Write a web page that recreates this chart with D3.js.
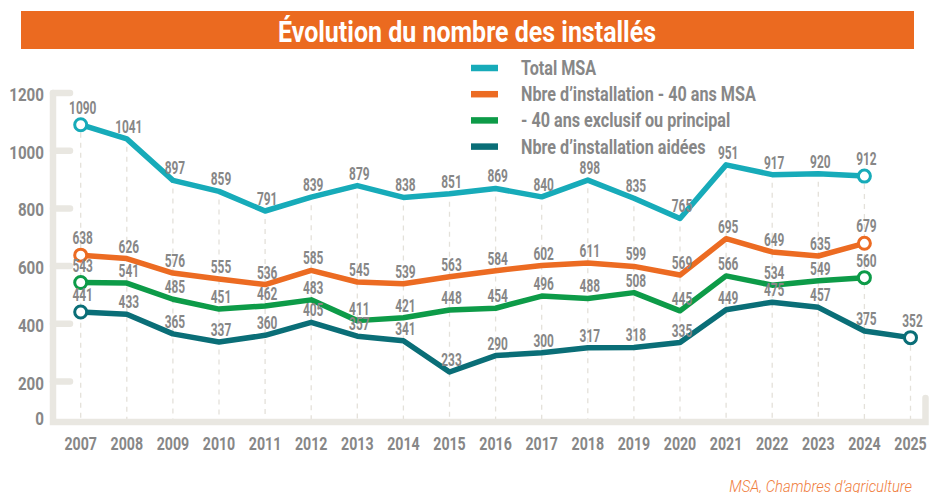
<!DOCTYPE html>
<html>
<head>
  <meta charset="utf-8">
  <title>Évolution du nombre des installés</title>
  <script src="https://cdn.jsdelivr.net/npm/d3@7"></script>
  <style>
    body { margin: 0; background: #fff; }
    text { font-family: Roboto, "DejaVu Sans Condensed", sans-serif; }
  </style>
</head>
<body>
<script>
  // data
  var years = [2007, 2008, 2009, 2010, 2011, 2012, 2013, 2014, 2015, 2016, 2017, 2018, 2019, 2020, 2021, 2022, 2023, 2024, 2025];
  var totalMSA = [1090, 1041, 897, 859, 791, 839, 879, 838, 851, 869, 840, 898, 835, 765, 951, 917, 920, 912];
  var moins40MSA = [638, 626, 576, 555, 536, 585, 545, 539, 563, 584, 602, 611, 599, 569, 695, 649, 635, 679];
  var moins40Excl = [543, 541, 485, 451, 462, 483, 411, 421, 448, 454, 496, 488, 508, 445, 566, 534, 549, 560];
  var aidees = [441, 433, 365, 337, 360, 405, 357, 341, 233, 290, 300, 317, 318, 335, 449, 475, 457, 375, 352];
  var yTicks = [0, 200, 400, 600, 800, 1000, 1200];

  var seriesNames = ["Total MSA", "Nbre d\u2019installation - 40 ans MSA", "- 40 ans exclusif ou principal", "Nbre d\u2019installation aidées"];
  var seriesColors = ["#17abb9", "#ec6b22", "#0d9b48", "#0a6e77"];
  var seriesValues = [totalMSA, moins40MSA, moins40Excl, aidees];

  var W = 930, H = 493;
  var grey = "#878787", axisCol = "#e9e7e1";

  var svg = d3.select("body").append("svg")
      .attr("width", W).attr("height", H);

  // condensed look: squeeze text horizontally
  function squeeze(sel, fx, fy, sx) {
    sel.attr("transform", function (d, i) {
      return "translate(" + fx(d, i) + "," + fy(d, i) + ") scale(" + sx + ",1)";
    });
  }

  // title band
  svg.append("rect")
      .attr("x", 21).attr("y", 11).attr("width", 893).attr("height", 38)
      .attr("fill", "#eb6a20");
  svg.append("text")
      .attr("x", 467).attr("y", 42)
      .attr("text-anchor", "middle")
      .attr("fill", "#fff")
      .attr("font-weight", "bold")
      .attr("font-size", 29)
      .attr("textLength", 378).attr("lengthAdjust", "spacingAndGlyphs")
      .text("Évolution du nombre des installés");

  var x = d3.scaleLinear().domain([2007, 2025]).range([80.7, 910.5]);
  // the axis is squeezed between 0 and 200 on the original
  var y = d3.scaleLinear().domain([0, 200, 1200]).range([420, 381.5, 93]);

  // dashed guides, from the highest point of each year down to the axis
  var tops = years.map(function (yr, i) {
    return d3.max(seriesValues, function (s) { return s[i]; });
  });
  svg.append("g").selectAll("line")
      .data(years)
      .enter().append("line")
        .attr("x1", function (d) { return x(d); })
        .attr("x2", function (d) { return x(d); })
        .attr("y1", function (d, i) { return y(tops[i]) + 8; })
        .attr("y2", y(0))
        .attr("stroke", "#e4e1da")
        .attr("stroke-width", 1.3)
        .attr("stroke-dasharray", "5,5");

  // axis frame
  var axis = svg.append("g")
      .attr("stroke", axisCol).attr("stroke-width", 6.5)
      .attr("stroke-linecap", "round").attr("fill", "none");
  axis.append("path")
      .attr("d", "M53," + y(1200) + " L53," + (y(0) + 2) + " L" + (x(2025) + 15) + "," + (y(0) + 2) + " L" + (x(2025) + 15) + "," + (y(0) - 22));
  axis.selectAll("line.tick")
      .data(yTicks.filter(function (d) { return d > 0; }))
      .enter().append("line")
        .attr("class", "tick")
        .attr("x1", 53).attr("x2", 70)
        .attr("y1", function (d) { return y(d); })
        .attr("y2", function (d) { return y(d); });

  svg.append("g").selectAll("text")
      .data(yTicks)
      .enter().append("text")
        .attr("text-anchor", "end")
        .attr("fill", grey)
        .attr("font-weight", "bold")
        .attr("font-size", 18.5)
        .text(function (d) { return d; })
        .call(squeeze,
              function () { return 44; },
              function (d) { return d === 0 ? y(d) + 5 : y(d) + 8; },
              0.82);

  svg.append("g").selectAll("text")
      .data(years)
      .enter().append("text")
        .attr("text-anchor", "middle")
        .attr("fill", grey)
        .attr("font-weight", "bold")
        .attr("font-size", 17.5)
        .text(function (d) { return d; })
        .call(squeeze,
              function (d) { return x(d); },
              function () { return 450; },
              0.81);

  // lines
  var line = d3.line()
      .x(function (d) { return x(d.year); })
      .y(function (d) { return y(d.value); });

  var series = seriesValues.map(function (vals, k) {
    return {
      name: seriesNames[k],
      color: seriesColors[k],
      points: vals.map(function (v, i) { return { year: years[i], value: v }; })
    };
  });

  series.forEach(function (s) {
    svg.append("path")
        .datum(s.points)
        .attr("d", line)
        .attr("fill", "none")
        .attr("stroke", s.color)
        .attr("stroke-width", 5.5)
        .attr("stroke-linejoin", "round");
  });

  // open circles at both ends
  series.forEach(function (s) {
    var ends = [s.points[0], s.points[s.points.length - 1]];
    svg.append("g").selectAll("circle")
        .data(ends)
        .enter().append("circle")
          .attr("cx", function (d) { return x(d.year); })
          .attr("cy", function (d) { return y(d.value); })
          .attr("r", 6)
          .attr("fill", "#fff")
          .attr("stroke", s.color)
          .attr("stroke-width", 3);
  });

  // value labels
  series.forEach(function (s) {
    var n = s.points.length;
    svg.append("g").selectAll("text")
        .data(s.points)
        .enter().append("text")
          .attr("text-anchor", "middle")
          .attr("fill", grey)
          .attr("font-weight", "bold")
          .attr("font-size", 18)
          .text(function (d) { return d.value; })
          .call(squeeze,
                function (d) { return x(d.year) + 2; },
                function (d, i) {
                  var off = (i === 0 || i === n - 1) ? 11 : 6;
                  return y(d.value) - off;
                },
                0.66);
  });

  // legend
  var legend = svg.append("g");
  series.forEach(function (s, k) {
    var ly = 68 + k * 26.2;
    legend.append("line")
        .attr("x1", 471).attr("x2", 498)
        .attr("y1", ly).attr("y2", ly)
        .attr("stroke", s.color).attr("stroke-width", 6.5);
    legend.append("text")
        .attr("fill", grey)
        .attr("font-weight", "bold")
        .attr("font-size", 19.5)
        .text(s.name)
        .attr("transform", "translate(521," + (ly + 7) + ") scale(0.83,1)");
  });

  // source
  svg.append("text")
      .attr("text-anchor", "end")
      .attr("fill", "#ef7d3c")
      .attr("font-style", "italic")
      .attr("font-weight", 300)
      .attr("font-size", 16)
      .text("MSA, Chambres d\u2019agriculture")
      .attr("transform", "translate(912,492) scale(0.93,1)");
</script>
</body>
</html>
